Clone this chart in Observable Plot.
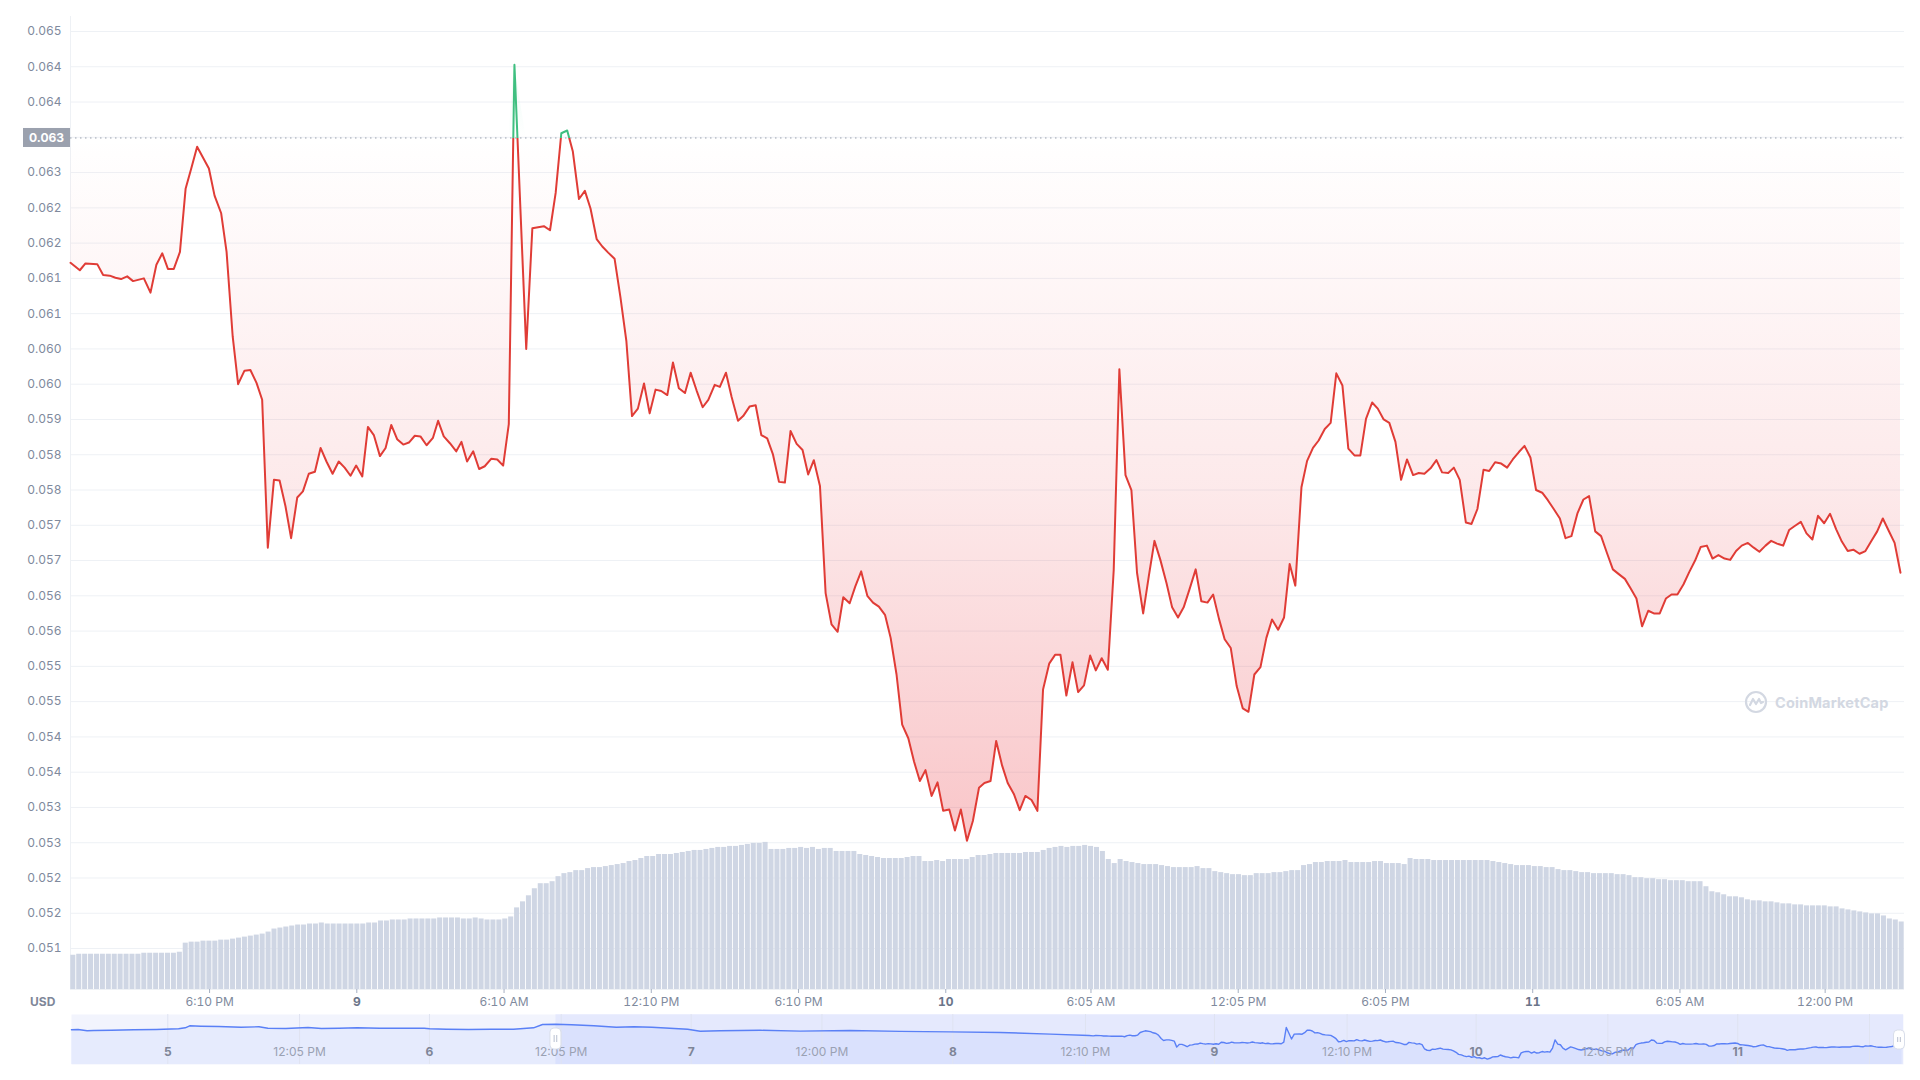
<!DOCTYPE html>
<html>
<head>
<meta charset="utf-8">
<script src="https://cdn.jsdelivr.net/npm/d3@7"></script>
<script src="https://cdn.jsdelivr.net/npm/@observablehq/plot@0.6"></script>
<style>
  html, body { margin: 0; padding: 0; background: #fff; }
  #wrap { position: relative; width: 1920px; height: 1080px; overflow: hidden; font-family: Inter, "Noto Sans", sans-serif; background: #fff; }
  .layer { position: absolute; left: 0; top: 0; }
  .layer svg { display: block; }
  #usd { position: absolute; left: 30px; top: 994px; font-size: 12px; font-weight: 700; color: #7f8799; line-height: 16px; }
  #wm { position: absolute; left: 1744px; top: 690px; display: flex; align-items: center; gap: 7px; color: #d3d8e2; font-size: 14.5px; font-weight: 700; letter-spacing: 0.2px; }
</style>
</head>
<body>
<div id="wrap">
  <div id="gridLayer" class="layer"></div>
  <div id="volLayer" class="layer"></div>
  <div id="priceLayer" class="layer"></div>
  <div id="navLayer" class="layer" style="top:1014px"></div>
  <div id="usd">USD</div>
  <div id="wm">
    <svg width="24" height="24" viewBox="0 0 24 24"><circle cx="12" cy="12" r="10" fill="none" stroke="#d3d8e2" stroke-width="2.2"/><path d="M6 15 L9 9 L12 14 L15 9 L17 13 L19 12" fill="none" stroke="#d3d8e2" stroke-width="2.2" stroke-linejoin="round" stroke-linecap="round"/></svg>
    <span>CoinMarketCap</span>
  </div>
</div>
<script>
// ---------------- DATA ----------------
const startTime = "2022-06-08T12:30:00Z";
const endTime = "2022-06-11T15:14:00Z";

// hours since startTime for each price sample
const priceHours = [
  0.00,0.38,0.61,1.09,1.33,1.60,1.83,2.06,2.31,2.55,
  2.99,3.26,3.50,3.74,3.97,4.21,4.46,4.69,4.92,5.16,
  5.64,5.87,6.14,6.36,6.61,6.83,7.09,7.33,7.58,7.81,
  8.04,8.29,8.52,8.76,8.99,9.24,9.47,9.71,9.96,10.19,
  10.43,10.68,10.93,11.17,11.41,11.64,11.89,12.12,12.36,12.61,
  12.84,13.07,13.31,13.56,13.79,14.03,14.26,14.51,14.77,14.98,
  15.21,15.46,15.72,15.93,16.16,16.41,16.65,16.88,17.14,17.39,
  17.63,17.86,18.09,18.57,
  18.82,19.29,19.54,19.77,20.00,20.24,20.47,20.72,20.96,21.19,
  21.44,21.67,21.91,22.17,22.41,22.65,22.88,23.12,23.37,23.60,
  23.84,24.07,24.32,24.55,24.79,25.04,25.27,25.51,25.76,25.99,
  26.25,26.46,26.71,26.94,27.20,27.41,27.67,27.92,28.15,28.39,
  28.62,28.87,29.11,29.34,29.59,29.83,30.06,30.29,30.54,30.77,
  31.01,31.26,31.49,31.75,31.98,32.22,32.47,32.70,32.94,33.19,
  33.42,33.66,33.89,34.14,34.37,34.61,34.84,35.09,35.33,35.56,
  35.81,36.04,36.28,36.53,36.77,37.02,
  37.24,37.49,37.72,37.96,38.19,38.44,38.68,38.91,39.16,39.40,
  39.63,39.88,40.12,40.34,40.58,40.83,41.06,41.30,41.55,41.78,
  42.02,42.27,42.51,42.74,42.99,43.23,43.46,43.71,43.94,44.17,
  44.41,44.66,44.89,45.13,45.36,45.61,45.85,46.08,46.33,46.56,
  46.80,47.03,47.28,47.52,47.77,48.00,48.24,48.49,48.73,48.96,
  49.21,49.45,49.68,49.91,50.16,50.39,50.63,50.86,51.11,51.35,
  51.58,51.83,52.07,52.32,52.56,52.79,53.04,53.27,53.51,53.74,
  53.99,54.22,54.46,54.71,54.94,55.17,55.42,
  55.66,55.89,56.14,56.37,56.61,56.86,57.09,57.33,57.58,57.81,
  58.05,58.30,58.54,58.77,59.02,59.25,59.49,59.72,59.97,60.20,
  60.44,60.69,60.92,61.16,61.41,61.65,61.88,62.13,62.37,62.62,
  62.85,63.09,63.34,63.57,63.81,64.04,64.29,64.52,64.76,65.01,
  65.24,65.48,65.73,65.96,66.20,66.43,66.68,66.91,67.15,67.40,
  67.63,67.87,68.10,68.35,68.59,68.82,69.07,69.30,69.54,69.79,
  70.03,70.26,70.51,70.74,70.98,71.21,71.46,71.70,71.95,72.18,
  72.42,72.65,72.90,73.14,73.37,73.62,73.85,74.09,74.33,74.57
];

// price in USD
const priceValues = [
  0.06129,0.06118,0.06128,0.06127,0.06111,0.06110,0.06107,0.06105,0.06109,0.06102,
  0.06106,0.06085,0.06126,0.06143,0.06120,0.06120,0.06145,0.06238,0.06268,0.06300,
  0.06268,0.06228,0.06202,0.06145,0.06020,0.05950,0.05970,0.05971,0.05952,0.05927,
  0.05709,0.05809,0.05808,0.05770,0.05723,0.05783,0.05792,0.05818,0.05821,0.05856,
  0.05836,0.05818,0.05836,0.05827,0.05815,0.05830,0.05814,0.05887,0.05875,0.05844,
  0.05856,0.05890,0.05869,0.05861,0.05864,0.05874,0.05873,0.05860,0.05871,0.05896,
  0.05873,0.05863,0.05851,0.05865,0.05836,0.05851,0.05825,0.05829,0.05840,0.05839,
  0.05830,0.05891,0.06421,0.06002,
  0.06180,0.06183,0.06177,0.06232,0.06320,0.06324,0.06293,0.06223,0.06235,0.06209,
  0.06164,0.06153,0.06144,0.06135,0.06078,0.06014,0.05903,0.05914,0.05951,0.05907,
  0.05942,0.05940,0.05934,0.05982,0.05944,0.05937,0.05967,0.05941,0.05916,0.05927,
  0.05949,0.05946,0.05967,0.05931,0.05896,0.05903,0.05917,0.05919,0.05875,0.05870,
  0.05847,0.05806,0.05805,0.05881,0.05862,0.05853,0.05817,0.05838,0.05800,0.05642,
  0.05596,0.05585,0.05636,0.05627,0.05652,0.05674,0.05638,0.05628,0.05622,0.05610,
  0.05576,0.05522,0.05448,0.05428,0.05394,0.05365,0.05381,0.05343,0.05363,0.05321,
  0.05323,0.05292,0.05323,0.05277,0.05306,0.05355,
  0.05362,0.05365,0.05424,0.05388,0.05362,0.05346,0.05322,0.05343,0.05337,0.05321,
  0.05500,0.05538,0.05551,0.05551,0.05491,0.05540,0.05496,0.05506,0.05550,0.05528,
  0.05546,0.05529,0.05676,0.05972,0.05816,0.05794,0.05672,0.05612,0.05667,0.05719,
  0.05691,0.05657,0.05621,0.05606,0.05621,0.05649,0.05677,0.05630,0.05628,0.05640,
  0.05604,0.05574,0.05561,0.05505,0.05472,0.05467,0.05522,0.05533,0.05576,0.05603,
  0.05588,0.05606,0.05685,0.05653,0.05798,0.05837,0.05856,0.05867,0.05884,0.05893,
  0.05966,0.05948,0.05855,0.05845,0.05845,0.05899,0.05923,0.05914,0.05898,0.05893,
  0.05865,0.05809,0.05839,0.05816,0.05819,0.05818,0.05826,
  0.05838,0.05820,0.05819,0.05827,0.05809,0.05746,0.05744,0.05766,0.05824,0.05822,
  0.05835,0.05833,0.05827,0.05839,0.05850,0.05859,0.05842,0.05794,0.05790,0.05779,
  0.05766,0.05752,0.05723,0.05726,0.05760,0.05780,0.05785,0.05733,0.05726,0.05700,
  0.05677,0.05670,0.05663,0.05649,0.05634,0.05593,0.05616,0.05612,0.05612,0.05634,
  0.05640,0.05640,0.05655,0.05673,0.05690,0.05710,0.05712,0.05693,0.05698,0.05693,
  0.05691,0.05704,0.05712,0.05716,0.05709,0.05703,0.05712,0.05719,0.05715,0.05712,
  0.05735,0.05741,0.05747,0.05730,0.05721,0.05756,0.05745,0.05759,0.05736,0.05718,
  0.05704,0.05706,0.05700,0.05704,0.05718,0.05733,0.05752,0.05734,0.05716,0.05672
];

// 24h volume bars (arbitrary units, one bar per sample interval)
const volumeValues = [
  10.2,10.5,10.5,10.5,10.5,10.5,10.5,10.5,10.5,10.5,10.5,10.5,
  10.8,10.8,10.8,10.8,10.8,10.8,11.1,
  13.8,14.1,14.1,14.4,14.4,14.4,14.7,14.7,15.0,15.3,
  15.6,15.9,16.2,16.5,17.1,18.0,18.3,18.6,18.9,19.2,
  19.2,19.5,19.5,19.8,19.5,19.5,19.5,19.5,19.5,19.5,19.5,
  19.8,19.8,20.4,20.4,20.7,20.7,20.7,21.0,21.0,21.0,21.0,21.0,
  21.3,21.3,21.3,21.3,21.0,21.0,21.3,21.0,20.7,20.7,20.7,21.0,21.6,
  24.3,26.1,27.9,30.0,31.5,31.5,32.1,33.6,34.5,34.8,35.4,35.4,
  36.0,36.3,36.3,36.6,36.9,37.2,37.5,38.1,38.4,39.0,39.6,39.6,
  40.2,40.2,40.2,40.5,40.8,41.1,41.4,41.4,41.7,42.0,42.3,42.3,
  42.6,42.6,42.9,43.2,43.5,43.5,43.8,
  41.7,41.7,41.7,42.0,42.0,42.3,42.0,42.3,41.7,42.0,42.0,
  41.1,41.1,41.1,41.1,40.2,39.9,39.6,39.3,39.0,39.0,39.0,39.0,39.3,39.6,39.6,
  38.1,38.1,38.4,38.1,38.7,38.7,38.7,38.7,39.3,39.9,39.9,40.2,
  40.5,40.5,40.5,40.5,40.5,40.8,40.8,40.8,41.4,42.0,42.3,42.6,42.3,42.6,42.6,42.9,42.6,42.3,41.1,
  38.7,37.5,38.7,38.1,37.8,37.5,37.2,37.2,37.2,36.9,36.6,36.3,36.3,36.3,36.3,36.6,36.0,36.0,
  35.1,34.8,34.5,34.2,34.2,33.9,33.9,34.5,34.5,34.5,34.8,34.8,35.1,35.4,35.4,
  36.9,37.2,37.8,37.8,38.1,38.1,38.1,38.4,37.8,37.8,37.8,37.8,38.1,38.1,37.5,37.5,37.5,37.2,
  39.0,38.7,38.7,38.7,38.4,38.4,38.4,38.4,38.4,38.4,38.4,38.4,38.4,38.4,
  38.1,37.8,37.5,37.2,36.9,36.9,36.9,36.6,36.6,36.3,36.3,35.7,35.4,35.4,35.1,34.8,34.8,
  34.5,34.5,34.5,34.5,34.2,34.2,33.9,33.3,33.3,33.0,33.0,32.7,32.7,32.4,32.4,32.4,32.1,32.1,32.1,
  30.6,29.1,28.8,28.2,27.6,27.6,27.3,26.7,26.4,26.4,26.1,26.1,25.8,25.5,25.5,25.2,25.2,
  24.9,24.9,24.9,24.9,24.6,24.6,24.0,23.7,23.4,23.1,22.8,22.5,22.5,21.9,21.0,20.7,20.1
];
const volumeMax = 289.7;

const baselinePrice = 0.06313;
const baselineLabel = "0.063";

const yDomain = [0.050576, 0.064921];
const yTickValues = [0.0647,0.06418,0.06366,0.06314,0.06262,0.0621,0.06158,0.06106,0.06054,0.06002,
  0.0595,0.05898,0.05846,0.05794,0.05742,0.0569,0.05638,0.05586,0.05534,0.05482,
  0.0543,0.05378,0.05326,0.05274,0.05222,0.0517,0.05118];
const yTickLabels = ["0.065","0.064","0.064","0.063","0.063","0.062","0.062","0.061","0.061","0.060",
  "0.060","0.059","0.058","0.058","0.057","0.057","0.056","0.056","0.055","0.055",
  "0.054","0.054","0.053","0.053","0.052","0.052","0.051"];

const xTimeTickTimes = ["2022-06-08T18:10:00Z","2022-06-09T06:10:00Z","2022-06-09T12:10:00Z","2022-06-09T18:10:00Z",
  "2022-06-10T06:05:00Z","2022-06-10T12:05:00Z","2022-06-10T18:05:00Z","2022-06-11T06:05:00Z","2022-06-11T12:00:00Z"];
const xTimeTickLabels = ["6:10 PM","6:10 AM","12:10 PM","6:10 PM","6:05 AM","12:05 PM","6:05 PM","6:05 AM","12:00 PM"];
const xDayTickTimes = ["2022-06-09T00:10:00Z","2022-06-10T00:10:00Z","2022-06-11T00:05:00Z"];
const xDayTickLabels = ["9","10","11"];

// navigator (7-day overview)
const navStart = "2022-06-04T15:10:00Z";
const navEnd = "2022-06-11T15:12:00Z";
const navYDomain = [0.0508, 0.0689];
const navEarlyBase = "2022-06-05T00:00:00Z";
const navEarlyHours = [-8.84,-8.23,-7.40,-6.79,-5.16,-3.11,-1.06,0.99,1.60,2.01,
  3.04,4.67,6.72,8.36,9.18,10.82,12.86,14.09,15.73,17.37,
  19.42,21.47,23.52,24.01,25.56,27.60,29.66,31.71,33.55,34.37,
  35.60,37.03,39.08,41.13,42.76,44.40,46.04,47.68,48.83,50.66,
  54.33,58.00,62.59,67.18,71.76,76.35,80.94];
const navEarlyValues = [0.06336,0.06347,0.06300,0.06311,0.06322,0.06336,0.06347,0.06372,0.06409,0.06481,
  0.06466,0.06456,0.06430,0.06445,0.06394,0.06383,0.06419,0.06383,0.06394,0.06409,
  0.06394,0.06394,0.06394,0.06372,0.06358,0.06347,0.06358,0.06358,0.06409,0.06528,
  0.06539,0.06517,0.06481,0.06430,0.06445,0.06430,0.06394,0.06358,0.06286,0.0630,
  0.0632,0.0629,0.0631,0.0628,0.0626,0.0624,0.0618];
const navTickTimes = ["2022-06-05T00:00:00Z","2022-06-05T12:05:00Z","2022-06-06T00:00:00Z","2022-06-06T12:05:00Z",
  "2022-06-07T00:00:00Z","2022-06-07T12:00:00Z","2022-06-08T00:00:00Z","2022-06-08T12:10:00Z",
  "2022-06-09T00:00:00Z","2022-06-09T12:10:00Z","2022-06-10T00:00:00Z","2022-06-10T12:05:00Z","2022-06-11T00:00:00Z"];
const navTickLabels = ["5","12:05 PM","6","12:05 PM","7","12:00 PM","8","12:10 PM","9","12:10 PM","10","12:05 PM","11"];
const navTickIsDay = [true,false,true,false,true,false,true,false,true,false,true,false,true];
const navGridExtra = ["2022-06-11T12:05:00Z"];
const navSelection = {start: "2022-06-06T11:36:00Z", end: "2022-06-11T15:12:00Z"};

// ---------------- BUILD ----------------
const FONT = "Inter, 'Noto Sans', sans-serif";
const W = 1920, H = 1014, ML = 70, MR = 16, MT = 16, MB = 25;
const toDate = (base, h) => new Date(+new Date(base) + h * 3600e3);
const xDomain = [new Date(startTime), new Date(endTime)];
const price = priceHours.map((h, i) => ({t: toDate(startTime, h), v: priceValues[i]}));
if (priceHours.length !== priceValues.length) console.error("length mismatch", priceHours.length, priceValues.length);

const yLabelOf = new Map(yTickValues.map((v, i) => [v, yTickLabels[i]]));
const timeTickDates = xTimeTickTimes.map(s => new Date(s));
const timeLabelOf = new Map(xTimeTickTimes.map((s, i) => [+new Date(s), xTimeTickLabels[i]]));
const dayTickDates = xDayTickTimes.map(s => new Date(s));
const dayLabelOf = new Map(xDayTickTimes.map((s, i) => [+new Date(s), xDayTickLabels[i]]));

const baseStyle = {background: "transparent", fontFamily: FONT, fontSize: "12px", overflow: "visible"};
const common = {width: W, height: H, marginLeft: ML, marginRight: MR, marginTop: MT, marginBottom: MB, style: baseStyle};

// Layer 1: grid + axes
const gridPlot = Plot.plot({
  ...common,
  x: {type: "utc", domain: xDomain},
  y: {domain: yDomain},
  marks: [
    Plot.gridY(yTickValues, {stroke: "#eef1f5", strokeOpacity: 1, strokeWidth: 1}),
    Plot.ruleX([xDomain[0]], {stroke: "#eef1f5", strokeWidth: 1}),
    Plot.ruleY([yDomain[0]], {stroke: "#eef1f5", strokeWidth: 1}),
    Plot.axisY(yTickValues, {anchor: "left", tickSize: 0, tickPadding: 9, tickFormat: d => yLabelOf.get(d), fill: "#808a9d", fontSize: 12, label: null}),
    Plot.axisX(timeTickDates, {anchor: "bottom", tickSize: 4, tickPadding: 4, tickFormat: d => timeLabelOf.get(+d), stroke: "#a6b0c3", fill: "#808a9d", fontSize: 12, label: null}),
    Plot.axisX(dayTickDates, {anchor: "bottom", tickSize: 4, tickPadding: 4, tickFormat: d => dayLabelOf.get(+d), stroke: "#a6b0c3", fill: "#6b7589", fontWeight: 700, fontSize: 12, label: null})
  ]
});
document.getElementById("gridLayer").append(gridPlot);

// Layer 2: volume bars
const volPlot = Plot.plot({
  ...common,
  x: {type: "band", domain: d3.range(volumeValues.length), paddingInner: 0.15, paddingOuter: 0.05, axis: null},
  y: {domain: [0, volumeMax], axis: null},
  marks: [
    Plot.barY(volumeValues, {x: (d, i) => i, y: d => d, fill: "#cfd6e4"})
  ]
});
document.getElementById("volLayer").append(volPlot);

// Layer 3: price area + line
function defsMark(index, scales, values, dims) {
  const yb = scales.y(baselinePrice);
  const defs = d3.create("svg:defs");
  const rf = defs.append("linearGradient").attr("id", "cmcRedFill").attr("x1", 0).attr("y1", 0).attr("x2", 0).attr("y2", 1);
  rf.append("stop").attr("offset", 0).attr("stop-color", "#ea3943").attr("stop-opacity", 0.0);
  rf.append("stop").attr("offset", 0.5).attr("stop-color", "#ea3943").attr("stop-opacity", 0.11);
  rf.append("stop").attr("offset", 1).attr("stop-color", "#ea3943").attr("stop-opacity", 0.29);
  const gf = defs.append("linearGradient").attr("id", "cmcGreenFill").attr("x1", 0).attr("y1", 1).attr("x2", 0).attr("y2", 0);
  gf.append("stop").attr("offset", 0).attr("stop-color", "#16c784").attr("stop-opacity", 0.0);
  gf.append("stop").attr("offset", 1).attr("stop-color", "#16c784").attr("stop-opacity", 0.08);
  const ls = defs.append("linearGradient").attr("id", "cmcLineStroke").attr("gradientUnits", "userSpaceOnUse")
    .attr("x1", 0).attr("y1", 0).attr("x2", 0).attr("y2", dims.height);
  const off = yb / dims.height;
  ls.append("stop").attr("offset", off).attr("stop-color", "#3fbf80");
  ls.append("stop").attr("offset", off).attr("stop-color", "#e03c36");
  return defs.node();
}
function highlightMark(index, scales, values, dims) {
  const y = scales.y(baselinePrice);
  const g = d3.create("svg:g");
  g.append("rect").attr("x", dims.marginLeft - 47).attr("y", y - 9.5).attr("width", 47).attr("height", 19).attr("fill", "#9ba1ae");
  g.append("text").attr("x", dims.marginLeft - 23.5).attr("y", y).attr("dy", "0.35em").attr("text-anchor", "middle")
    .attr("fill", "#fff").attr("font-weight", 700).attr("font-size", 12).attr("font-family", FONT).text(baselineLabel);
  return g.node();
}
const pricePlot = Plot.plot({
  ...common,
  x: {type: "utc", domain: xDomain, axis: null},
  y: {domain: yDomain, axis: null},
  marks: [
    defsMark,
    Plot.areaY(price, {x: "t", y1: () => baselinePrice, y2: d => Math.min(d.v, baselinePrice), fill: "url(#cmcRedFill)"}),
    Plot.areaY(price, {x: "t", y1: () => baselinePrice, y2: d => Math.max(d.v, baselinePrice), fill: "url(#cmcGreenFill)"}),
    Plot.ruleY([baselinePrice], {stroke: "#9aa0ad", strokeDasharray: "1.5,3.5", strokeWidth: 1}),
    Plot.line(price, {x: "t", y: "v", stroke: "url(#cmcLineStroke)", strokeWidth: 2}),
    highlightMark
  ]
});
document.getElementById("priceLayer").append(pricePlot);

// Navigator
const navEarly = navEarlyHours.map((h, i) => ({t: toDate(navEarlyBase, h), v: navEarlyValues[i]}));
const nav = navEarly.concat(price);
const navTickDates = navTickTimes.map(s => new Date(s));
const navDayTicks = navTickDates.filter((d, i) => navTickIsDay[i]);
const navTimeTicks = navTickDates.filter((d, i) => !navTickIsDay[i]);
const navLabelOf = new Map(navTickTimes.map((s, i) => [+new Date(s), navTickLabels[i]]));
const selStart = new Date(navSelection.start), selEnd = new Date(navSelection.end);
function handlesMark(index, scales, values, dims) {
  const g = d3.create("svg:g");
  [[scales.x(selStart), 14], [scales.x(selEnd) - 4, 16]].forEach(([cx, top]) => {
    g.append("rect").attr("x", cx - 5.5).attr("y", top).attr("width", 11).attr("height", 33 - top + 2).attr("rx", 4)
      .attr("fill", "#fff").attr("stroke", "#d9deea").attr("stroke-width", 1);
    g.append("line").attr("x1", cx - 1.3).attr("x2", cx - 1.3).attr("y1", top + 7).attr("y2", 33 - 5).attr("stroke", "#b8bfcf");
    g.append("line").attr("x1", cx + 1.3).attr("x2", cx + 1.3).attr("y1", top + 7).attr("y2", 33 - 5).attr("stroke", "#b8bfcf");
  });
  return g.node();
}
const navPlot = Plot.plot({
  width: W, height: 50, marginLeft: 71, marginRight: 17, marginTop: 0, marginBottom: 0,
  style: baseStyle,
  x: {type: "utc", domain: [new Date(navStart), new Date(navEnd)], axis: null},
  y: {domain: navYDomain, axis: null},
  marks: [
    Plot.frame({fill: "#f2f4fd", stroke: "none"}),
    Plot.areaY(nav, {x: "t", y1: () => navYDomain[0], y2: "v", fill: "#3861fb", fillOpacity: 0.06}),
    Plot.rect([navSelection], {x1: d => new Date(d.start), x2: d => new Date(d.end), fill: "#3861fb", fillOpacity: 0.065}),
    Plot.ruleX(navTickDates.concat(navGridExtra.map(s => new Date(s))), {stroke: "#dfe3f1", strokeWidth: 1}),
    Plot.line(nav, {x: "t", y: "v", stroke: "#5a80f6", strokeWidth: 1.4}),
    Plot.text(navTimeTicks, {x: d => d, text: d => navLabelOf.get(+d), frameAnchor: "bottom", dy: -9, fill: "#9aa1b3", fontSize: 12}),
    Plot.text(navDayTicks, {x: d => d, text: d => navLabelOf.get(+d), frameAnchor: "bottom", dy: -9, fill: "#7e8598", fontSize: 12, fontWeight: 700}),
    handlesMark
  ]
});
document.getElementById("navLayer").append(navPlot);
</script>
</body>
</html>
